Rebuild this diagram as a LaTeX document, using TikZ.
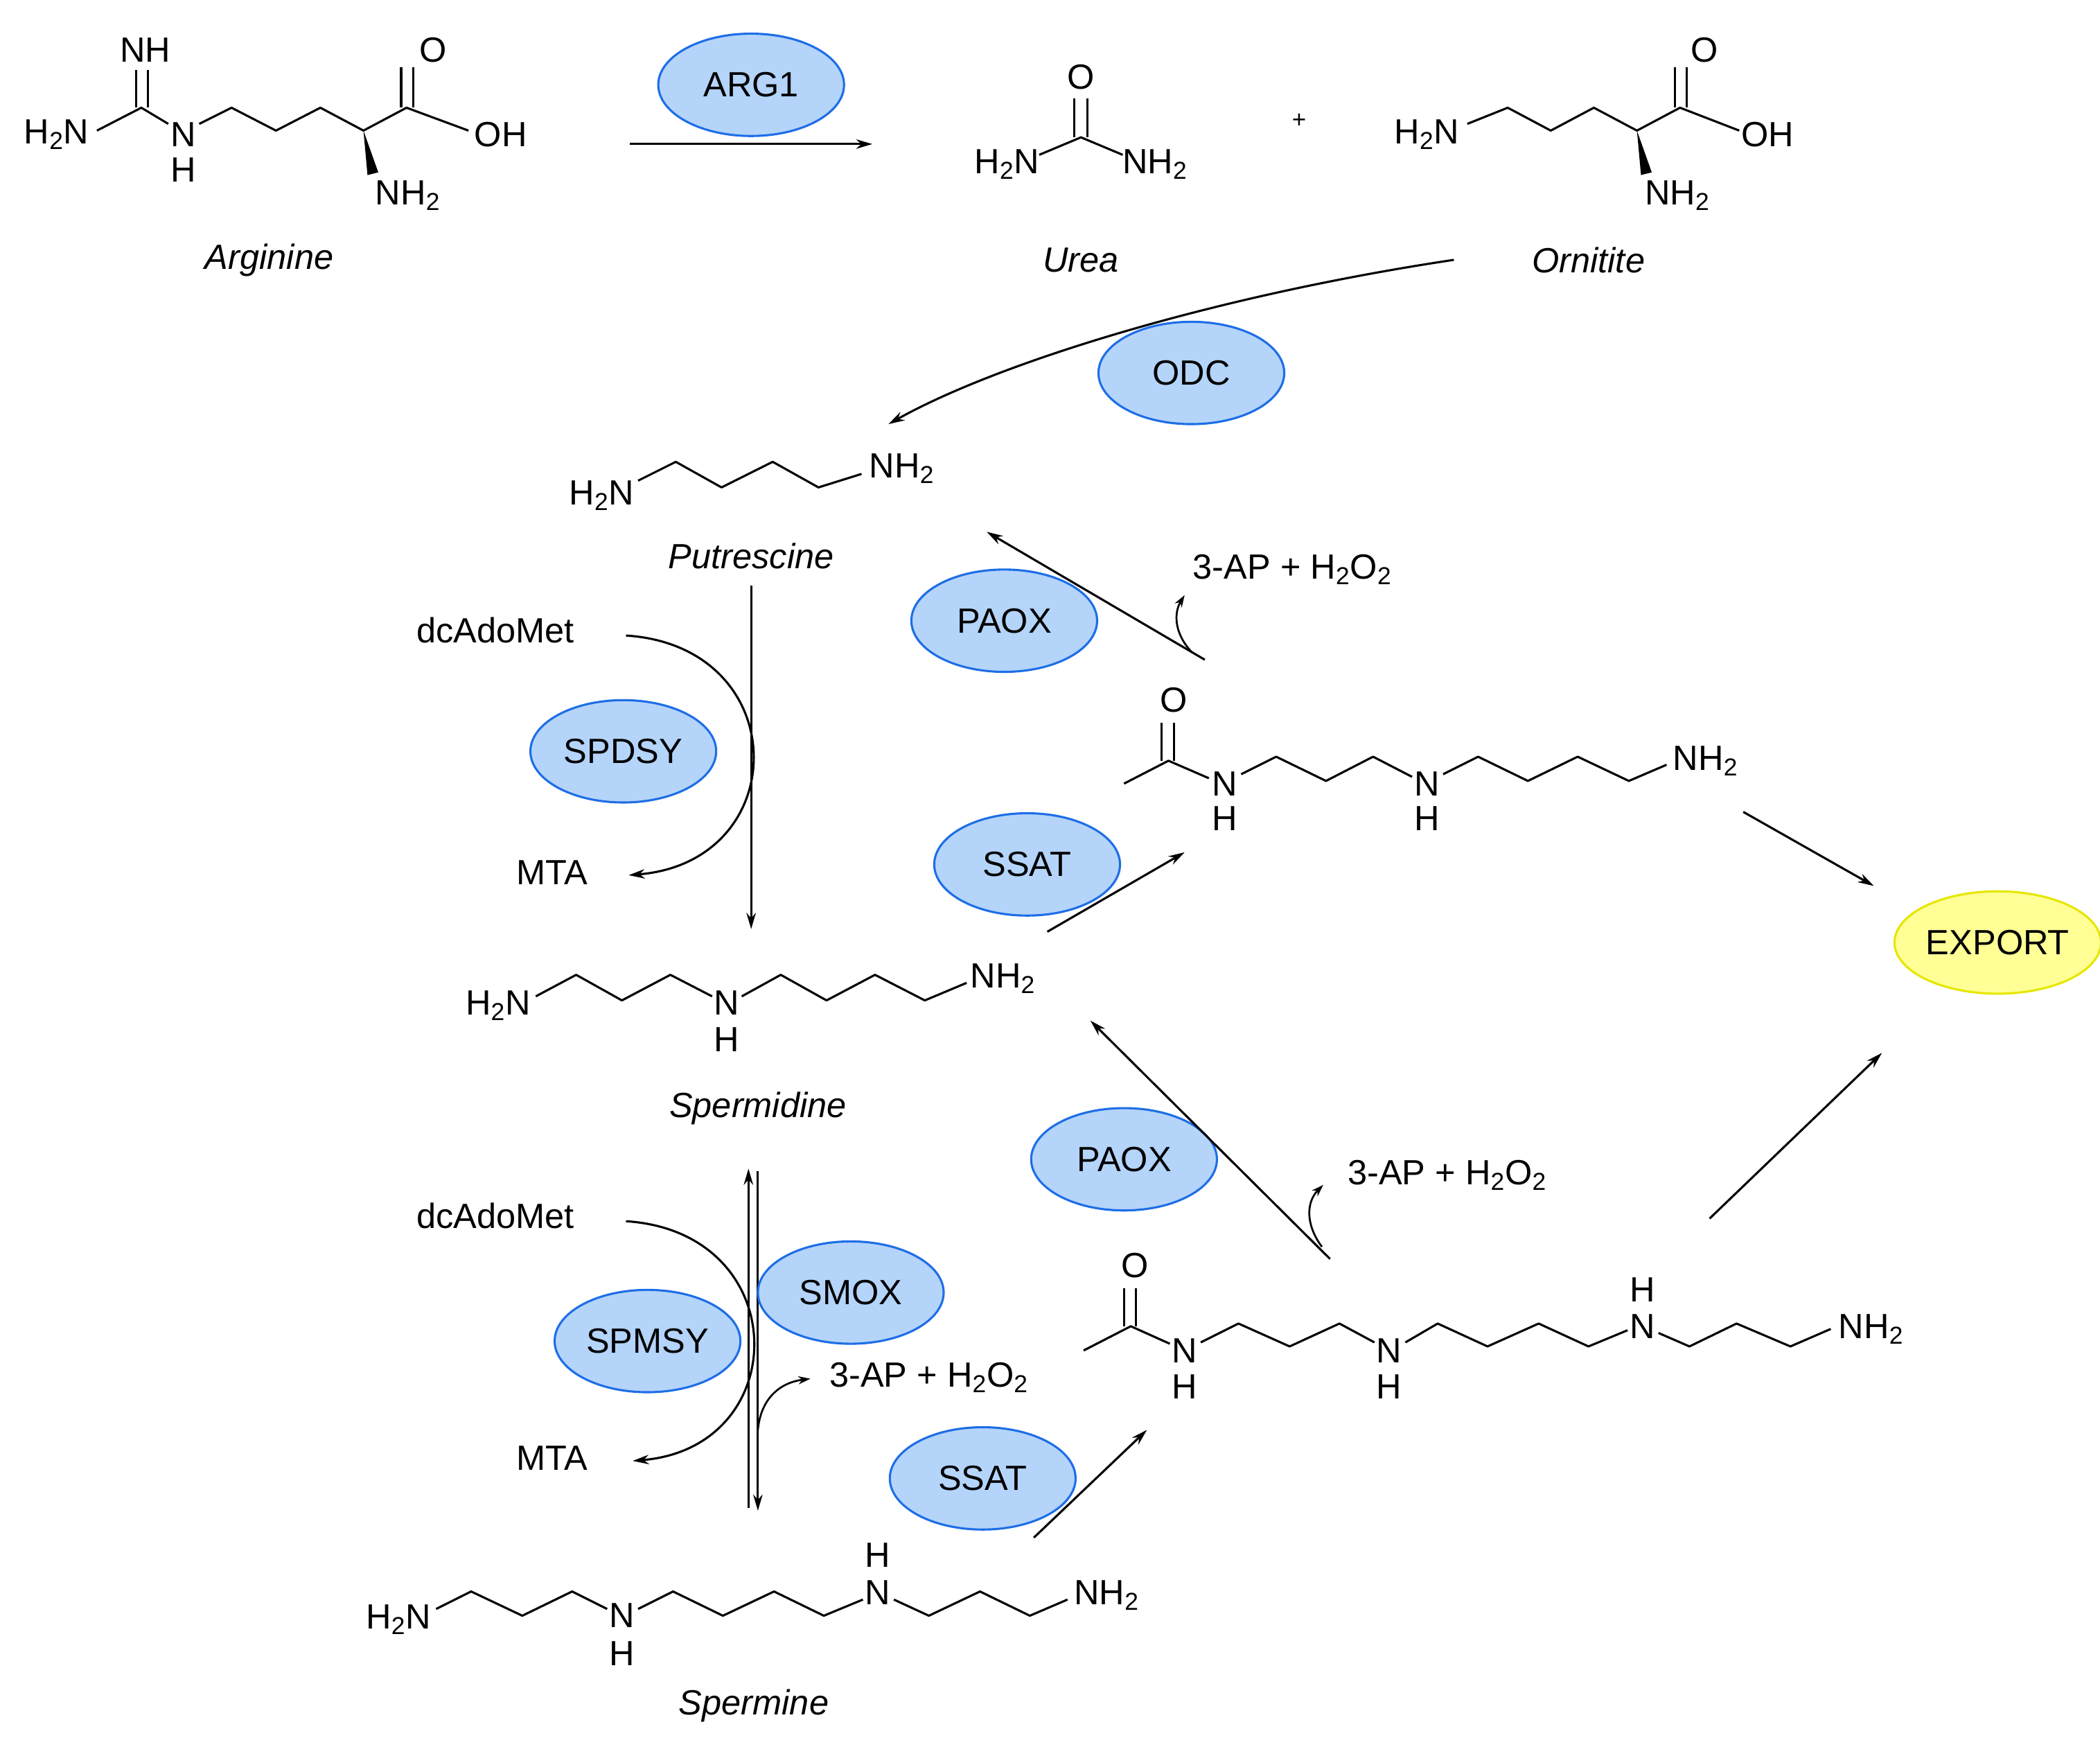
\documentclass[tikz,border=0pt]{standalone}
\usepackage{fontspec}
\setmainfont{Liberation Sans}
\usetikzlibrary{shapes.geometric,arrows.meta}
\newcommand{\sub}[1]{\textsubscript{#1}}
\begin{document}
\begin{tikzpicture}[x=1pt,y=-1pt,
  every node/.style={font=\fontsize{26}{30}\selectfont,inner sep=1pt},
  bond/.style={line width=1.6pt,line join=round},
  arr/.style={line width=1.6pt,-{Stealth[length=12pt,width=7pt]}},
  enz/.style={ellipse,draw={rgb,255:red,30;green,110;blue,230},line width=1.6pt,fill={rgb,255:red,180;green,212;blue,250},minimum width=138pt,minimum height=76pt},
  lab/.style={font=\fontsize{26}{30}\selectfont\itshape}]
\useasboundingbox (0,0) rectangle (1560,1297.5);
% ---------- Arginine
\node (ar1) at (42,100) {H\sub{2}N};
\node (ar2) at (108,37) {NH};
\node (ar3) at (136,100) {N};
\node at (136,126) {H};
\node (ar4) at (303,145) {NH\sub{2}};
\node (ar5) at (322,37) {O};
\node (ar6) at (372,100) {OH};
\draw[bond] (72,97)--(105,80)--(125,92);
\draw[bond] (101,80)--(101,52) (110,80)--(110,52);
\draw[bond] (148,92)--(172,80)--(205,97)--(238,80)--(270,97)--(302,80)--(348,97);
\draw[bond] (298,80)--(298,50) (307,80)--(307,50);
\fill (270,97)--(281,128)--(273,130)--cycle;
\node[lab] (argl) at (200,193) {Arginine};
% ---------- ARG1
\node[enz] (arg1) at (558,63) {ARG1};
\coordinate (a1s) at (468,107); \coordinate (a1e) at (648,107);
\draw[arr] (a1s)--(a1e);
% ---------- Urea
\node (u1) at (803,57) {O};
\node (u2) at (748,122) {H\sub{2}N};
\node (u3) at (858,122) {NH\sub{2}};
\draw[bond] (798,73)--(798,102) (808,73)--(808,102);
\draw[bond] (772,115)--(803,102)--(834,115);
\node[lab] (urea) at (803,193) {Urea};
\node[font=\fontsize{18}{20}\selectfont] (plus) at (965,90) {+};
% ---------- Ornithine
\node (o1) at (1060,100) {H\sub{2}N};
\node (o2) at (1266,37) {O};
\node (o3) at (1313,100) {OH};
\node (o4) at (1246,145) {NH\sub{2}};
\draw[bond] (1090,92)--(1120,80)--(1152,97)--(1184,80)--(1216,97)--(1248,80)--(1292,97);
\draw[bond] (1244,80)--(1244,50) (1253,80)--(1253,50);
\fill (1216,97)--(1227,128)--(1219,130)--cycle;
\node[lab] (orn) at (1180,193) {Ornitite};
% ---------- ODC
\node[enz] (odc) at (885,277) {ODC};
\coordinate (os) at (1080,193); \coordinate (oe) at (660,315);
\draw[arr] (os) .. controls (900,220) and (740,270) .. (oe);
% ---------- Putrescine
\node (p1) at (447,368) {H\sub{2}N};
\node (p2) at (670,348) {NH\sub{2}};
\draw[bond] (474,357)--(502,343)--(536,362)--(574,343)--(608,362)--(640,352);
\node[lab] (put) at (558,413) {Putrescine};
\coordinate (v1s) at (558,435); \coordinate (v1e) at (558,690);
\draw[arr] (v1s)--(v1e);
% ---------- SPDSY
\node (dc1) at (368,468) {dcAdoMet};
\node (mta1) at (410,648) {MTA};
\node[enz] (spdsy) at (463,558) {SPDSY};
\draw[arr] (465,472) .. controls (590,480) and (590,640) .. (467,650);
% ---------- PAOX 1
\node[enz] (paox1) at (746,461) {PAOX};
\coordinate (pa1s) at (895,490); \coordinate (pa1e) at (733,395);
\draw[arr] (pa1s)--(pa1e);
\node (ap1) at (960,423) {3-AP + H\sub{2}O\sub{2}};
\draw[line width=1.4pt,-{Stealth[length=9pt,width=6pt]}] (885,484) .. controls (872,470) and (872,455) .. (880,442);
% ---------- N-acetylspermidine
\node (as1) at (872,520) {O};
\node (as2) at (910,582) {N};
\node at (910,608) {H};
\node (as3) at (1060,582) {N};
\node at (1060,608) {H};
\node (as4) at (1267,565) {NH\sub{2}};
\draw[bond] (835,582)--(868,565)--(898,578);
\draw[bond] (863,565)--(863,537) (872,565)--(872,537);
\draw[bond] (922,575)--(948,562)--(985,580)--(1020,562)--(1049,577);
\draw[bond] (1072,575)--(1098,562)--(1135,580)--(1172,562)--(1210,580)--(1238,568);
\node[enz] (ssat1) at (763,642) {SSAT};
\coordinate (s1s) at (778,692); \coordinate (s1e) at (880,633);
\draw[arr] (s1s)--(s1e);
% ---------- EXPORT
\node[enz,fill={rgb,255:red,255;green,255;blue,150},draw={rgb,255:red,230;green,230;blue,0}] (exp) at (1484,700) {EXPORT};
\coordinate (e1s) at (1295,603); \coordinate (e1e) at (1392,658);
\draw[arr] (e1s)--(e1e);
\coordinate (e2s) at (1270,905); \coordinate (e2e) at (1398,782);
\draw[arr] (e2s)--(e2e);
% ---------- Spermidine
\node (sd1) at (370,747) {H\sub{2}N};
\node (sd2) at (540,745) {N};
\node at (540,772) {H};
\node (sd3) at (745,727) {NH\sub{2}};
\draw[bond] (398,740)--(428,724)--(462,743)--(498,724)--(529,740);
\draw[bond] (551,740)--(580,724)--(614,743)--(650,724)--(687,743)--(718,730);
\node[lab] (spd) at (563,823) {Spermidine};
% ---------- PAOX 2
\node[enz] (paox2) at (835,861) {PAOX};
\coordinate (pa2s) at (988,935); \coordinate (pa2e) at (810,758);
\draw[arr] (pa2s)--(pa2e);
\node (ap2) at (1075,873) {3-AP + H\sub{2}O\sub{2}};
\draw[line width=1.4pt,-{Stealth[length=9pt,width=6pt]}] (982,926) .. controls (970,910) and (970,893) .. (983,880);
% ---------- SPMSY / SMOX
\coordinate (u1s) at (556,1120); \coordinate (u1e) at (556,868);
\draw[arr] (u1s)--(u1e);
\coordinate (d1s) at (563,870); \coordinate (d1e) at (563,1122);
\draw[arr] (d1s)--(d1e);
\node (dc2) at (368,903) {dcAdoMet};
\node (mta2) at (410,1083) {MTA};
\node[enz] (spmsy) at (481,996) {SPMSY};
\node[enz] (smox) at (632,960) {SMOX};
\draw[arr] (465,907) .. controls (590,915) and (590,1075) .. (470,1085);
\node (ap3) at (690,1023) {3-AP + H\sub{2}O\sub{2}};
\draw[line width=1.4pt,-{Stealth[length=9pt,width=6pt]}] (563,1062) .. controls (565,1040) and (578,1027) .. (602,1024);
% ---------- SSAT 2
\node[enz] (ssat2) at (730,1098) {SSAT};
\coordinate (s2s) at (768,1142); \coordinate (s2e) at (852,1062);
\draw[arr] (s2s)--(s2e);
% ---------- N-acetylspermine
\node (ap1o) at (843,940) {O};
\node (apn1) at (880,1003) {N};
\node at (880,1030) {H};
\node (apn2) at (1032,1003) {N};
\node at (1032,1030) {H};
\node (apn3) at (1220,985) {N};
\node at (1220,958) {H};
\node (apn4) at (1390,987) {NH\sub{2}};
\draw[bond] (805,1003)--(840,985)--(869,998);
\draw[bond] (835,985)--(835,957) (844,985)--(844,957);
\draw[bond] (892,997)--(920,983)--(958,1000)--(995,983)--(1021,997);
\draw[bond] (1044,997)--(1068,983)--(1105,1000)--(1143,983)--(1180,1000)--(1209,988);
\draw[bond] (1232,990)--(1255,1000)--(1290,983)--(1330,1000)--(1360,987);
% ---------- Spermine
\node (sp1) at (296,1203) {H\sub{2}N};
\node (sp2) at (462,1200) {N};
\node at (462,1228) {H};
\node (sp3) at (652,1183) {N};
\node at (652,1155) {H};
\node (sp4) at (822,1185) {NH\sub{2}};
\draw[bond] (324,1195)--(350,1182)--(388,1200)--(425,1182)--(451,1195);
\draw[bond] (474,1195)--(500,1182)--(537,1200)--(575,1182)--(612,1200)--(641,1188);
\draw[bond] (664,1188)--(690,1200)--(728,1182)--(765,1200)--(793,1188);
\node[lab] (spm) at (560,1267) {Spermine};
\end{tikzpicture}
\end{document}
